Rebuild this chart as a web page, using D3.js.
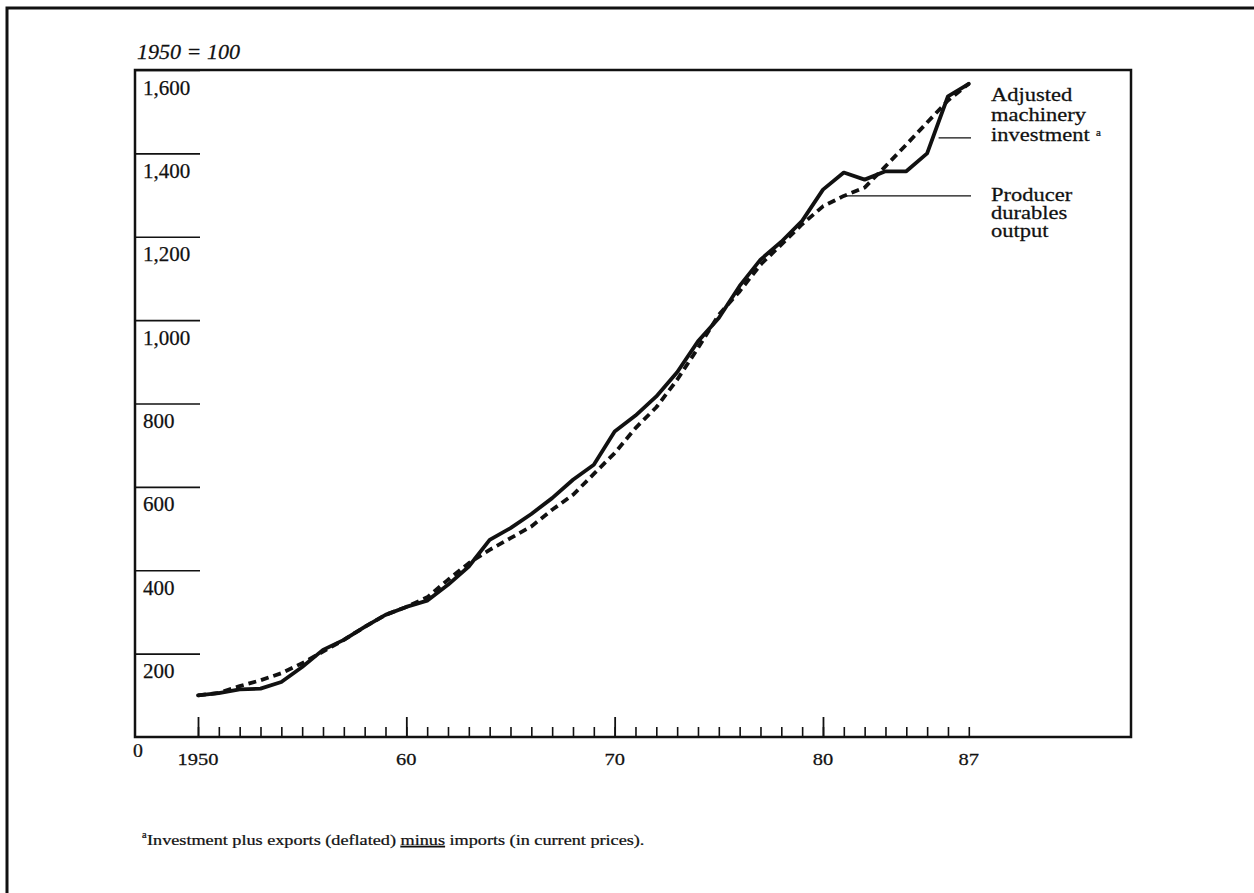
<!DOCTYPE html>
<html><head><meta charset="utf-8">
<script src="https://cdn.jsdelivr.net/npm/d3@7"></script>
<style>
body{margin:0;background:#fff}
svg{display:block}
text{font-family:"Liberation Serif","Times New Roman",serif;fill:#111;stroke:#111;stroke-width:0.25px}
</style></head>
<body><svg id="c" width="1254" height="893"></svg>
<script>
// ---- data ----
const years = [1950,1951,1952,1953,1954,1955,1956,1957,1958,1959,1960,1961,1962,1963,1964,1965,1966,1967,1968,1969,1970,1971,1972,1973,1974,1975,1976,1977,1978,1979,1980,1981,1982,1983,1984,1985,1986,1987];
const adjustedMachinery = [100,105,114,116,132,168,209,233,264,293,312,327,365,409,473,501,535,573,617,653,733,771,817,875,949,1005,1082,1145,1188,1238,1313,1354,1337,1357,1357,1400,1537,1567];
const producerDurables = [100,106,122,136,153,177,205,233,264,293,312,335,377,417,449,477,505,545,581,631,681,741,791,857,933,1013,1069,1133,1181,1230,1273,1298,1318,1369,1421,1474,1527,1567];
const yTicks = [200,400,600,800,1000,1200,1400,1600];
const xMajorTicks = [1950,1960,1970,1980];
const xLabelYears = [1950,1960,1970,1980,1987];
const xLabels = ["1950","60","70","80","87"];
const seriesNames = [["Adjusted","machinery","investment"],["Producer","durables","output"]];
const leaderAnchors = [{year:1985.55, value:1437},{year:1981, value:1298}];
const unitLabel = "1950 = 100";
const footnote = ["Investment plus exports (deflated) ", "minus", " imports (in current prices)."];

// ---- layout ----
const svg = d3.select("#c");
const ink = "#111";
const box = {left:135, right:1131, top:70, bottom:737};
const x = d3.scaleLinear().domain([1950,1987]).range([198,968.8]);
const y = d3.scaleLinear().domain([0,1600]).range([box.bottom, box.top]);

function fitText(parent, px, py, str, size, factor, anchor, italic){
  const g = parent.append("g").attr("transform",`translate(${px},${py}) scale(${factor},1)`);
  const t = g.append("text").attr("font-size",size).attr("text-anchor",anchor||"start").text(str);
  if(italic) t.attr("font-style","italic");
  return t;
}

// outer frame
svg.append("path").attr("d","M7,893 L7,8 L1254,8").attr("fill","none").attr("stroke",ink).attr("stroke-width",3);

// plot box
svg.append("rect").attr("x",box.left).attr("y",box.top).attr("width",box.right-box.left).attr("height",box.bottom-box.top)
  .attr("fill","none").attr("stroke",ink).attr("stroke-width",2.5);

// y axis ticks (lines to the right, labels beneath)
const yAxis = d3.axisRight(y).tickValues(yTicks).tickSize(65).tickFormat(d3.format(","));
const ya = svg.append("g").attr("transform",`translate(${box.left},0)`).call(yAxis);
ya.select(".domain").remove();
ya.selectAll(".tick line").attr("stroke",ink).attr("stroke-width",1.6);
ya.selectAll(".tick text").attr("x",8).attr("dy",24).attr("font-size",21)
  .attr("font-family",'"Liberation Serif","Times New Roman",serif').attr("fill",ink).attr("text-anchor","start");

// x axis ticks (upward)
const xMinor = d3.axisTop(x).tickValues(years).tickSize(10).tickFormat("");
const xm = svg.append("g").attr("transform",`translate(0,${box.bottom})`).call(xMinor);
xm.select(".domain").remove();
xm.selectAll(".tick line").attr("stroke",ink).attr("stroke-width",1.6);
const xMajor = d3.axisTop(x).tickValues(xMajorTicks).tickSize(20).tickFormat("");
const xM = svg.append("g").attr("transform",`translate(0,${box.bottom})`).call(xMajor);
xM.select(".domain").remove();
xM.selectAll(".tick line").attr("stroke",ink).attr("stroke-width",1.8);

// x labels
xLabelYears.forEach((yr,i)=>fitText(svg, x(yr), 765, xLabels[i], 17.5, 1.17, "middle"));
fitText(svg, 138, 757, "0", 18, 1.1, "middle");

// unit label
fitText(svg, 137, 59, unitLabel, 21, 1.05, "start", true);

// lines
const line = d3.line().x((d,i)=>x(years[i])).y(d=>y(d)).curve(d3.curveLinear);
svg.append("path").datum(producerDurables).attr("d",line).attr("fill","none").attr("stroke",ink)
  .attr("stroke-width",3.8).attr("stroke-dasharray","8,5").attr("stroke-linejoin","round");
svg.append("path").datum(adjustedMachinery).attr("d",line).attr("fill","none").attr("stroke",ink)
  .attr("stroke-width",3.8).attr("stroke-linejoin","round").attr("stroke-linecap","round");

// leader lines + labels
const labelX = 991, leaderEnd = 971;
leaderAnchors.forEach(a=>{
  svg.append("line").attr("x1",x(a.year)).attr("x2",leaderEnd).attr("y1",y(a.value)).attr("y2",y(a.value))
    .attr("stroke",ink).attr("stroke-width",1.3);
});
const baselines = [[101,121,141],[201,219,237]];
seriesNames.forEach((lines,s)=>lines.forEach((str,j)=>fitText(svg, labelX, baselines[s][j], str, 18, 1.25, "start")));
fitText(svg, 1096, 136, "a", 10, 1.1, "start");

// footnote
fitText(svg, 142, 838, "a", 9.5, 1.1, "start");
const fg = svg.append("g");
const ft = fg.append("text").attr("font-size",14.5);
ft.append("tspan").text(footnote[0]);
ft.append("tspan").attr("text-decoration","underline").text(footnote[1]);
ft.append("tspan").text(footnote[2]);
const fw = ft.node().getComputedTextLength();
fg.attr("transform",`translate(147,845) scale(${498/fw},1)`);
</script></body></html>
